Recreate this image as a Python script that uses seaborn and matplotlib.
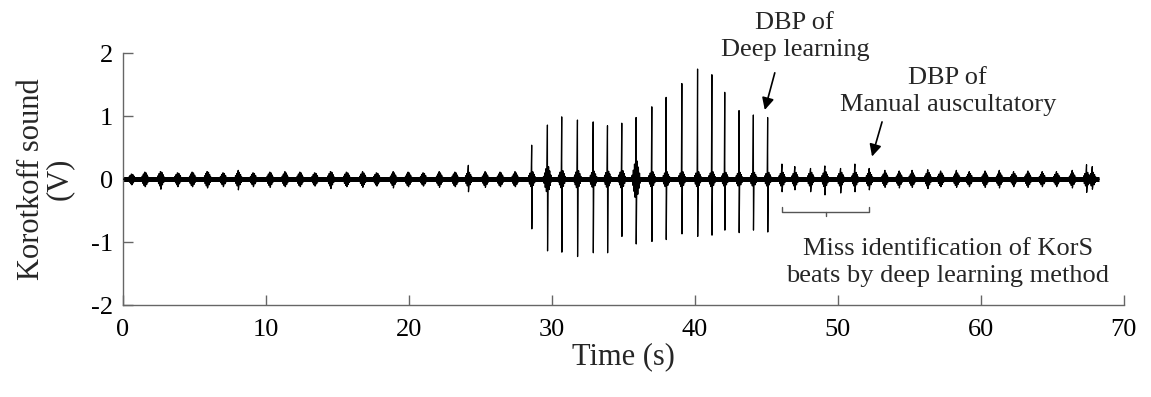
import matplotlib
matplotlib.use("Agg")
import matplotlib.pyplot as plt
import pandas as pd
import seaborn as sns

# Beat times (s) and peak values (V)
quiet_t = [0.63, 1.56, 2.66, 3.85, 4.87, 5.92, 7.03, 8.08, 9.13, 10.3, 11.35, 12.4, 13.44,
           14.55, 15.66, 16.78, 17.76, 18.92, 19.97, 21.02, 22.14, 23.24, 24.17, 25.35, 26.4, 27.44]
quiet_up = [0.08, 0.11, 0.12, 0.10, 0.11, 0.12, 0.10, 0.14, 0.10, 0.11, 0.12, 0.11, 0.10,
            0.12, 0.11, 0.12, 0.10, 0.12, 0.11, 0.10, 0.12, 0.11, 0.22, 0.12, 0.11, 0.12]
quiet_down = [-0.09, -0.12, -0.16, -0.12, -0.12, -0.14, -0.12, -0.17, -0.12, -0.13, -0.12, -0.12, -0.11,
              -0.15, -0.12, -0.13, -0.11, -0.14, -0.12, -0.11, -0.13, -0.12, -0.20, -0.13, -0.12, -0.12]
quiet_burst = [0.08, 0.11, 0.12, 0.10, 0.11, 0.12, 0.10, 0.12, 0.10, 0.11, 0.11, 0.11, 0.10,
               0.12, 0.11, 0.11, 0.10, 0.11, 0.11, 0.10, 0.11, 0.11, 0.12, 0.11, 0.11, 0.11]

kors_t = [28.6, 29.7, 30.7, 31.8, 32.9, 33.9, 34.9, 35.9, 37.0, 38.0, 39.1, 40.2, 41.2, 42.1, 43.1, 44.1, 45.1]
kors_up = [0.54, 0.86, 0.99, 0.94, 0.91, 0.85, 0.89, 0.98, 1.15, 1.30, 1.52, 1.75, 1.66, 1.38, 1.09, 1.02, 0.98]
kors_down = [-0.79, -1.14, -1.16, -1.23, -1.17, -1.17, -0.91, -1.03, -0.99, -0.96, -0.87, -0.91, -0.89,
             -0.81, -0.85, -0.81, -0.84]
kors_burst = [0.13, 0.22, 0.15, 0.15, 0.14, 0.14, 0.15, 0.32, 0.13, 0.13, 0.13, 0.13, 0.13, 0.12, 0.12, 0.12, 0.12]

missed_t = [46.1, 47.0, 48.1, 49.1, 50.2, 51.2, 52.2]
missed_up = [0.24, 0.20, 0.17, 0.21, 0.17, 0.24, 0.17]
missed_down = [-0.20, -0.17, -0.20, -0.25, -0.22, -0.20, -0.17]
missed_burst = [0.12, 0.12, 0.12, 0.13, 0.12, 0.12, 0.12]

tail_t = [53.3, 54.3, 55.2, 56.3, 57.2, 58.3, 59.2, 60.3, 61.3, 62.3, 63.3, 64.3, 65.3, 66.4, 67.4, 67.8]
tail_up = [0.14, 0.13, 0.14, 0.15, 0.13, 0.14, 0.12, 0.13, 0.14, 0.12, 0.13, 0.12, 0.12, 0.14, 0.23, 0.20]
tail_down = [-0.13, -0.14, -0.13, -0.15, -0.12, -0.13, -0.12, -0.13, -0.14, -0.12, -0.13, -0.12, -0.12,
             -0.14, -0.21, -0.16]
tail_burst = [0.11, 0.11, 0.11, 0.12, 0.11, 0.11, 0.10, 0.11, 0.11, 0.10, 0.11, 0.10, 0.10, 0.11, 0.12, 0.12]

record_start, record_end = 0.0, 68.3

# shape of the sound burst around each beat (offset in s, relative size)
spindle_pre_dt = [-0.27, -0.23, -0.19, -0.15, -0.11, -0.07, -0.03]
spindle_pre_w = [0.2, -0.3, 0.45, -0.6, 0.75, -0.9, 1.0]
spindle_post_dt = [0.04, 0.08, 0.12, 0.16, 0.20, 0.24, 0.28]
spindle_post_w = [-1.0, 0.9, -0.75, 0.6, -0.45, 0.3, -0.2]

beat_t = quiet_t + kors_t + missed_t + tail_t
beat_up = quiet_up + kors_up + missed_up + tail_up
beat_down = quiet_down + kors_down + missed_down + tail_down
beat_burst = quiet_burst + kors_burst + missed_burst + tail_burst

# build the trace beat by beat
ts, vs = [record_start], [0.0]
for t, up, down, b in zip(beat_t, beat_up, beat_down, beat_burst):
    ts.append(t - 0.32)
    vs.append(0.0)
    ts += [t + d for d in spindle_pre_dt]
    vs += [b * w for w in spindle_pre_w]
    ts += [t, t + 0.01]
    vs += [up, down]
    ts += [t + d for d in spindle_post_dt]
    vs += [b * w for w in spindle_post_w]
    ts.append(t + 0.32)
    vs.append(0.0)
ts.append(record_end)
vs.append(0.0)
trace = pd.DataFrame({"Time": ts, "V": vs})

sns.set_style("ticks")
plt.rcParams["font.family"] = ["Liberation Serif", "DejaVu Serif"]

fig = plt.figure(figsize=(11.51, 3.97), dpi=100)
ax = fig.add_axes([0.1066, 0.2317, 0.8697, 0.634])

# background noise band of the recording
ax.hlines(0, record_start, record_end, color="black", lw=3.6, zorder=2)
sns.lineplot(data=trace, x="Time", y="V", sort=False, estimator=None,
             color="black", lw=0.9, ax=ax, zorder=3)

ax.set_xlim(0, 70)
ax.set_ylim(-2, 2)
ax.set_xticks(range(0, 71, 10))
ax.set_yticks([-2, -1, 0, 1, 2])
ax.set_yticklabels(["-2", "-1", "0", "1", "2"])
sns.despine(ax=ax)
for s in ["left", "bottom"]:
    ax.spines[s].set_color("#666666")
    ax.spines[s].set_linewidth(1.0)
ax.tick_params(direction="in", length=7, width=1, color="#666666", labelsize=19, labelcolor="black")
ax.tick_params(axis="x", pad=10)
ax.tick_params(axis="y", pad=7)

ax.set_xlabel("Time (s)", fontsize=22, labelpad=1)
ax.set_ylabel("Korotkoff sound\n(V)", fontsize=22, labelpad=12, linespacing=0.95)

arrow = dict(arrowstyle="-|>", color="black", lw=1.2, mutation_scale=18, shrinkA=0, shrinkB=0)
ax.annotate("", xy=(44.9, 1.10), xytext=(45.6, 1.69), arrowprops=arrow)
ax.text(47.0, 2.27, "DBP of\nDeep learning", fontsize=19, ha="center", va="center",
        linespacing=1.3, clip_on=False)
ax.annotate("", xy=(52.4, 0.36), xytext=(53.1, 0.91), arrowprops=arrow)
ax.text(57.7, 1.40, "DBP of\nManual auscultatory", fontsize=19, ha="center", va="center",
        linespacing=1.3)

# bracket under the missed beats
br_lo, br_hi, br_y = missed_t[0], missed_t[-1], -0.52
br_mid = (br_lo + br_hi) / 2
ax.plot([br_lo, br_lo, br_hi, br_hi], [br_y + 0.07, br_y, br_y, br_y + 0.07], color="#555555", lw=1)
ax.plot([br_mid, br_mid], [br_y, br_y - 0.07], color="#555555", lw=1)
ax.text(57.7, -1.32, "Miss identification of KorS\nbeats by deep learning method", fontsize=19,
        ha="center", va="center", linespacing=1.3)

fig.savefig("out.png", dpi=100)
